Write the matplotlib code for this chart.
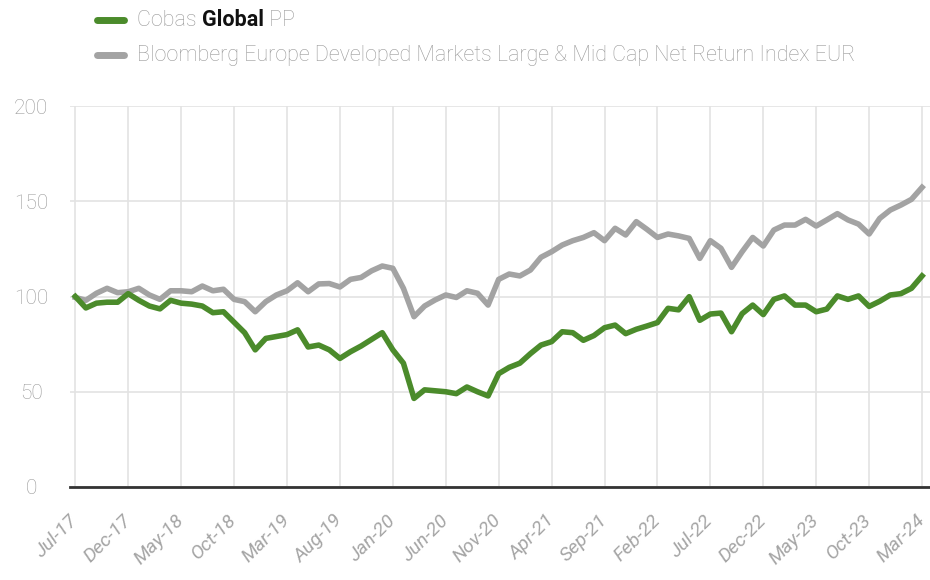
import matplotlib
matplotlib.use("Agg")
import matplotlib.pyplot as plt
import matplotlib.transforms as mtransforms
from matplotlib.lines import Line2D

# monthly values, Jul-17 .. Mar-24 (base 100)
months = ["Jul-17", "Aug-17", "Sep-17", "Oct-17", "Nov-17", "Dec-17",
          "Jan-18", "Feb-18", "Mar-18", "Apr-18", "May-18", "Jun-18",
          "Jul-18", "Aug-18", "Sep-18", "Oct-18", "Nov-18", "Dec-18",
          "Jan-19", "Feb-19", "Mar-19", "Apr-19", "May-19", "Jun-19",
          "Jul-19", "Aug-19", "Sep-19", "Oct-19", "Nov-19", "Dec-19",
          "Jan-20", "Feb-20", "Mar-20", "Apr-20", "May-20", "Jun-20",
          "Jul-20", "Aug-20", "Sep-20", "Oct-20", "Nov-20", "Dec-20",
          "Jan-21", "Feb-21", "Mar-21", "Apr-21", "May-21", "Jun-21",
          "Jul-21", "Aug-21", "Sep-21", "Oct-21", "Nov-21", "Dec-21",
          "Jan-22", "Feb-22", "Mar-22", "Apr-22", "May-22", "Jun-22",
          "Jul-22", "Aug-22", "Sep-22", "Oct-22", "Nov-22", "Dec-22",
          "Jan-23", "Feb-23", "Mar-23", "Apr-23", "May-23", "Jun-23",
          "Jul-23", "Aug-23", "Sep-23", "Oct-23", "Nov-23", "Dec-23",
          "Jan-24", "Feb-24", "Mar-24"]

cobas = [100, 94, 96.5, 97, 97, 101.5, 98, 95, 93.5, 98,
         96.5, 96, 95, 91.5, 92, 86.5, 81, 72, 78, 79,
         80, 82.5, 73.5, 74.5, 72, 67.5, 71, 74, 77.5, 81,
         72, 65, 46.5, 51, 50.5, 50, 49, 52.5, 50, 47.8,
         59.5, 62.8, 65, 70, 74.5, 76.3, 81.5, 81, 77, 79.5,
         83.6, 85, 80.5, 82.8, 84.5, 86.3, 93.8, 93, 99.9, 87.5,
         90.8, 91.3, 81.5, 91, 95.5, 90.5, 98.5, 100.3, 95.5, 95.5,
         92, 93.4, 100.3, 98.5, 100.3, 94.8, 97.5, 100.8, 101.5, 104.3,
         110.8]

bloomberg = [99.5, 98, 101.7, 104.3, 102, 102.5, 104.3, 100.8, 98.5, 103,
             103, 102.5, 105.5, 103, 103.8, 98.5, 97.3, 92, 97.3, 100.8,
             103, 107.2, 102.5, 106.6, 106.8, 105, 109, 110, 113.5, 116,
             114.8, 104.3, 89.4, 95, 98.2, 100.8, 99.5, 103, 101.7, 95.5,
             109, 111.8, 110.8, 113.9, 120.6, 123.5, 127, 129.3, 131, 133.5,
             129.3, 135.8, 132.3, 139.3, 135.3, 131, 132.8, 131.8, 130.5, 120,
             129.3, 125.3, 115.3, 123.5, 131, 126.5, 134.9, 137.5, 137.5, 140.5,
             137, 140.2, 143.5, 140.2, 138, 132.8, 141, 145.4, 148, 151,
             157.3]

yticks = [0, 50, 100, 150, 200]

GREEN = "#4b8b2b"
GREY = "#a3a3a3"
TXT = "#999999"

plt.rcParams["font.family"] = ["Roboto", "DejaVu Sans"]

fig = plt.figure(figsize=(9.3, 5.8), dpi=100)
ax = fig.add_axes([70 / 930, 1 - 487 / 580, 860 / 930, 381 / 580])

x = list(range(len(months)))
ax.plot(x, bloomberg, color=GREY, lw=4, solid_joinstyle="round", zorder=3)
ax.plot(x, cobas, color=GREEN, lw=4, solid_joinstyle="round", zorder=4)

ax.set_xlim(-0.5, 80.75)
ax.set_ylim(0, 200)

tick_idx = x[::5]
ax.set_xticks(tick_idx)
ax.set_xticklabels([months[i] for i in tick_idx], rotation=45, ha="right",
                   va="center", rotation_mode="anchor", fontsize=14,
                   fontstyle="italic", color="#a5a5a5")
shift = mtransforms.ScaledTranslation(-6 / 100, 0, fig.dpi_scale_trans)
for lbl in ax.get_xticklabels():
    lbl.set_transform(lbl.get_transform() + shift)
ax.set_yticks(yticks)
ax.set_yticklabels([str(v) for v in yticks], fontsize=15, fontweight="light",
                   color=TXT)
for lbl in ax.get_yticklabels():
    lbl.set_horizontalalignment("center")
ax.tick_params(axis="y", length=0, pad=28)
ax.tick_params(axis="x", length=0, pad=22)

ax.grid(True, color="#e3e3e3", lw=1.2, zorder=0)
for s in ["top", "right", "left"]:
    ax.spines[s].set_visible(False)
ax.spines["bottom"].set_color("#333333")
ax.spines["bottom"].set_linewidth(2)
ax.spines["bottom"].set_zorder(5)

# legend drawn by hand: bold word inside the first label
fig.add_artist(Line2D([97 / 930, 124 / 930], [1 - 20 / 580] * 2, color=GREEN,
                      lw=5, solid_capstyle="round"))
fig.add_artist(Line2D([97 / 930, 124 / 930], [1 - 55 / 580] * 2, color=GREY,
                      lw=5, solid_capstyle="round"))
t1 = fig.text(137 / 930, 1 - 20 / 580, "Cobas ", fontsize=15.5,
              fontweight="light", color=TXT, va="center")
a2 = ax.annotate("Global", xy=(1, 0), xycoords=t1, va="bottom", ha="left",
                 fontsize=15.5, fontweight="bold", color="#111111",
                 annotation_clip=False)
ax.annotate(" PP", xy=(1, 0), xycoords=a2, va="bottom", ha="left",
            fontsize=15.5, fontweight="light", color=TXT, annotation_clip=False)
fig.text(137 / 930, 1 - 55 / 580,
         "Bloomberg Europe Developed Markets Large & Mid Cap Net Return Index EUR",
         fontsize=15.5, fontweight="light", color=TXT, va="center")

fig.savefig("out.png", dpi=100)
